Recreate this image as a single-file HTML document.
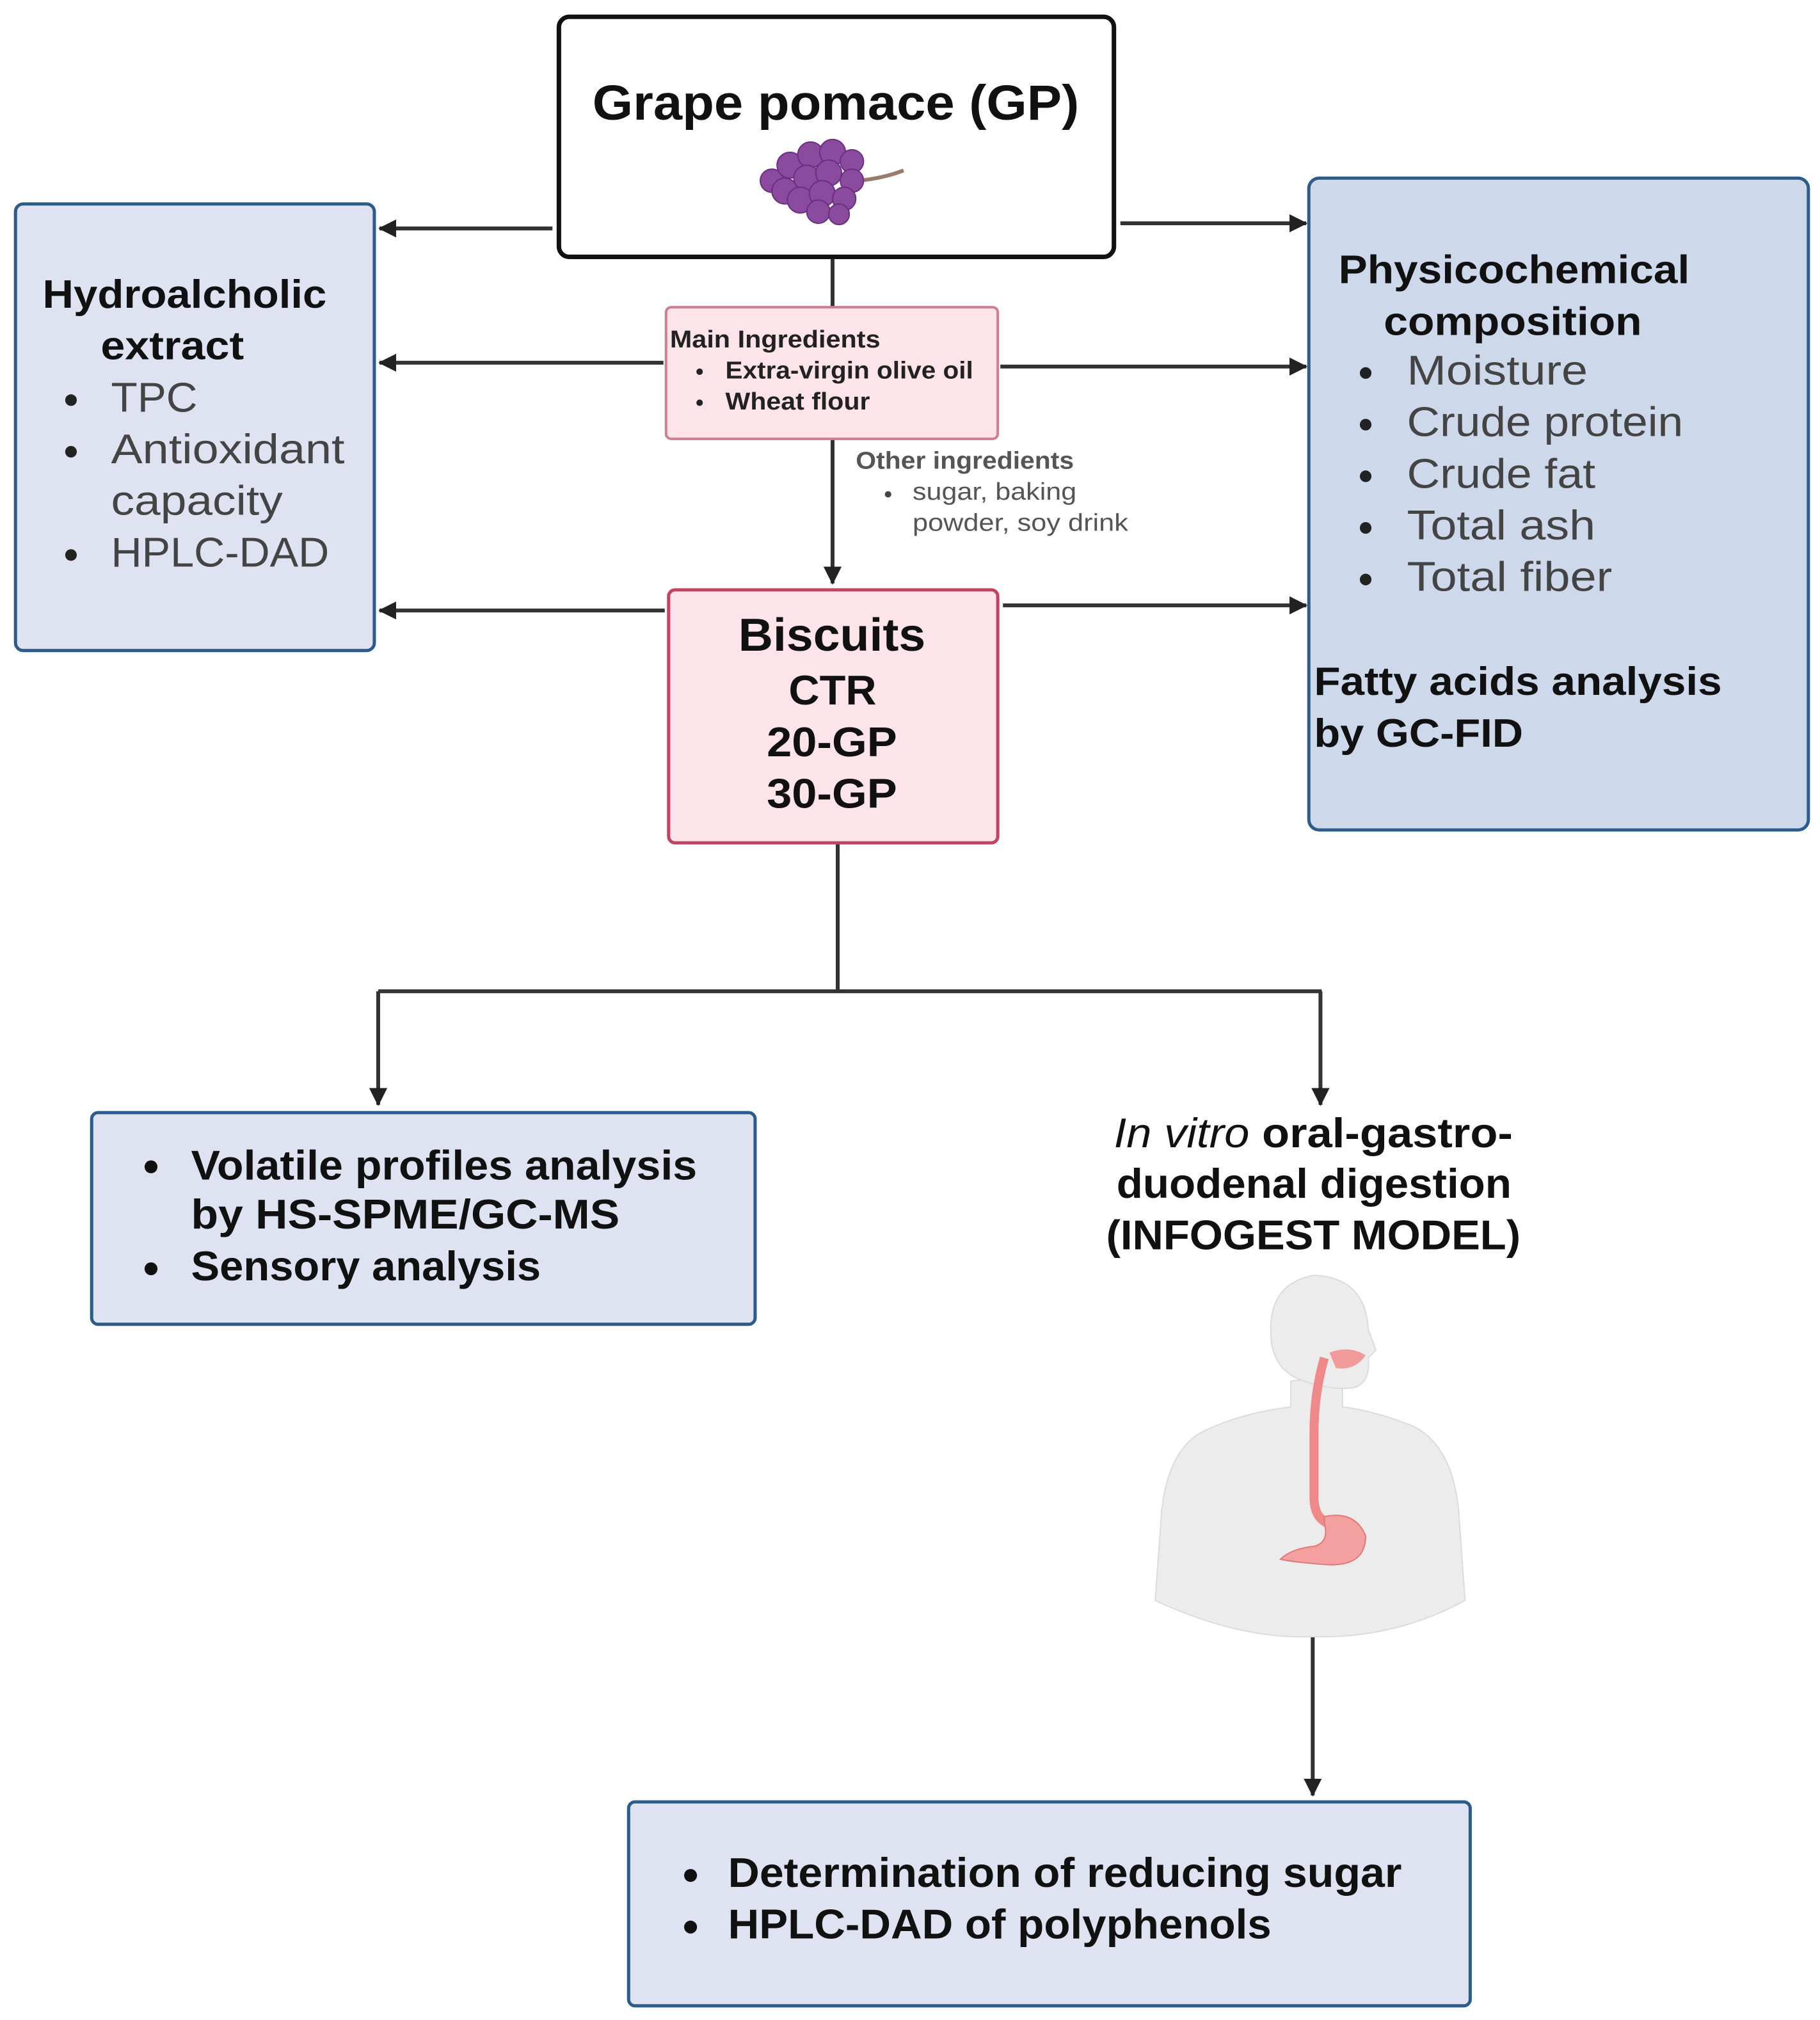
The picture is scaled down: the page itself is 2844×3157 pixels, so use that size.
<!DOCTYPE html>
<html><head><meta charset="utf-8"><style>
html,body{margin:0;padding:0;background:#fff;}
svg{display:block;}
text{font-family:"Liberation Sans",sans-serif;dominant-baseline:central;}
.b{font-weight:bold;fill:#111;}
.n{fill:#444;}
</style></head><body>
<svg width="2844" height="3157" viewBox="0 0 1410 1565" preserveAspectRatio="none" xmlns="http://www.w3.org/2000/svg">
<defs>
<marker id="ah" markerWidth="10" markerHeight="10" refX="9" refY="5" orient="auto" markerUnits="userSpaceOnUse" viewBox="0 0 10 10">
<path d="M0,0 L10,5 L0,10 z" fill="#222"/></marker>
<marker id="ah2" markerWidth="14" markerHeight="14" refX="13" refY="7" orient="auto" markerUnits="userSpaceOnUse" viewBox="0 0 14 14">
<path d="M0,0 L14,7 L0,14 z" fill="#222"/></marker>
</defs>
<rect width="1410" height="1565" fill="#fff"/>
<g stroke="#333" stroke-width="3" fill="none">
<line x1="428" y1="177" x2="294" y2="177" marker-end="url(#ah2)"/>
<line x1="868" y1="173" x2="1012" y2="173" marker-end="url(#ah2)"/>
<line x1="514" y1="281" x2="294" y2="281" marker-end="url(#ah2)"/>
<line x1="775" y1="284" x2="1012" y2="284" marker-end="url(#ah2)"/>
<line x1="515" y1="473" x2="294" y2="473" marker-end="url(#ah2)"/>
<line x1="777" y1="469" x2="1012" y2="469" marker-end="url(#ah2)"/>
<line x1="645" y1="200" x2="645" y2="238"/>
<line x1="645" y1="340" x2="645" y2="452" marker-end="url(#ah2)"/>
<polyline points="649,653 649,768"/>
<line x1="293" y1="768" x2="1024" y2="768"/>
<line x1="293" y1="768" x2="293" y2="856" marker-end="url(#ah2)"/>
<line x1="1023" y1="768" x2="1023" y2="856" marker-end="url(#ah2)"/>
<line x1="1017" y1="1268" x2="1017" y2="1391" marker-end="url(#ah2)"/>
</g>
<!-- GP box -->
<rect x="433" y="13" width="430" height="186" rx="8" fill="#fff" stroke="#111" stroke-width="3.5"/>
<text x="459" y="80" class="b" font-size="38" textLength="377" lengthAdjust="spacingAndGlyphs">Grape pomace (GP)</text>
<g>
<path d="M665,140 Q685,138 700,132" stroke="#9a7a6a" stroke-width="3" fill="none"/>
<g fill="#8a4a9e" stroke="#6a2f80" stroke-width="1">
<circle cx="598" cy="140" r="9"/><circle cx="612" cy="128" r="10"/><circle cx="628" cy="120" r="10"/><circle cx="645" cy="118" r="10"/><circle cx="660" cy="125" r="9"/>
<circle cx="608" cy="148" r="10"/><circle cx="625" cy="138" r="10"/><circle cx="642" cy="134" r="10"/><circle cx="660" cy="140" r="9"/>
<circle cx="620" cy="155" r="10"/><circle cx="637" cy="150" r="10"/><circle cx="654" cy="154" r="9"/>
<circle cx="634" cy="164" r="9"/><circle cx="650" cy="166" r="8"/>
</g>
</g>
<!-- Left box -->
<rect x="12" y="158" width="278" height="346" rx="6" fill="#dfe3f1" stroke="#2e5c8a" stroke-width="2.5"/>
<text x="33" y="228" class="b" font-size="31" textLength="220" lengthAdjust="spacingAndGlyphs">Hydroalcholic</text>
<text x="78" y="268" class="b" font-size="31" textLength="111" lengthAdjust="spacingAndGlyphs">extract</text>
<g fill="#222"><circle cx="55" cy="310" r="4.5"/><circle cx="55" cy="350" r="4.5"/><circle cx="55" cy="430" r="4.5"/></g>
<text x="86" y="308" class="n" font-size="32" textLength="67" lengthAdjust="spacingAndGlyphs">TPC</text>
<text x="86" y="348" class="n" font-size="32" textLength="181" lengthAdjust="spacingAndGlyphs">Antioxidant</text>
<text x="86" y="388" class="n" font-size="32" textLength="133" lengthAdjust="spacingAndGlyphs">capacity</text>
<text x="86" y="428" class="n" font-size="32" textLength="169" lengthAdjust="spacingAndGlyphs">HPLC-DAD</text>
<!-- Right box -->
<rect x="1014" y="138" width="387" height="505" rx="8" fill="#cdd8ea" stroke="#2e5c8a" stroke-width="2.5"/>
<text x="1037" y="209" class="b" font-size="31" textLength="272" lengthAdjust="spacingAndGlyphs">Physicochemical</text>
<text x="1072" y="249" class="b" font-size="31" textLength="200" lengthAdjust="spacingAndGlyphs">composition</text>
<g fill="#222"><circle cx="1058" cy="289" r="4.5"/><circle cx="1058" cy="329" r="4.5"/><circle cx="1058" cy="369" r="4.5"/><circle cx="1058" cy="409" r="4.5"/><circle cx="1058" cy="449" r="4.5"/></g>
<text x="1090" y="287" class="n" font-size="32" textLength="140" lengthAdjust="spacingAndGlyphs">Moisture</text>
<text x="1090" y="327" class="n" font-size="32" textLength="214" lengthAdjust="spacingAndGlyphs">Crude protein</text>
<text x="1090" y="367" class="n" font-size="32" textLength="146" lengthAdjust="spacingAndGlyphs">Crude fat</text>
<text x="1090" y="407" class="n" font-size="32" textLength="146" lengthAdjust="spacingAndGlyphs">Total ash</text>
<text x="1090" y="447" class="n" font-size="32" textLength="159" lengthAdjust="spacingAndGlyphs">Total fiber</text>
<text x="1018" y="528" class="b" font-size="31" textLength="316" lengthAdjust="spacingAndGlyphs">Fatty acids analysis</text>
<text x="1018" y="568" class="b" font-size="31" textLength="162" lengthAdjust="spacingAndGlyphs">by GC-FID</text>
<!-- Main ingredients -->
<rect x="516" y="238" width="257" height="102" rx="4" fill="#fde4ea" stroke="#d07f93" stroke-width="2"/>
<text x="519" y="263" font-size="19" font-weight="bold" fill="#222" textLength="163" lengthAdjust="spacingAndGlyphs">Main Ingredients</text>
<g fill="#222"><circle cx="542" cy="288" r="2.5"/><circle cx="542" cy="312" r="2.5"/></g>
<text x="562" y="287" font-size="19" font-weight="bold" fill="#222" textLength="192" lengthAdjust="spacingAndGlyphs">Extra-virgin olive oil</text>
<text x="562" y="311" font-size="19" font-weight="bold" fill="#222" textLength="112" lengthAdjust="spacingAndGlyphs">Wheat flour</text>
<!-- Other ingredients -->
<text x="663" y="357" font-size="19" font-weight="bold" fill="#555" textLength="169" lengthAdjust="spacingAndGlyphs">Other ingredients</text>
<circle cx="688" cy="383" r="2.5" fill="#444"/>
<text x="707" y="381" font-size="19" fill="#555" textLength="127" lengthAdjust="spacingAndGlyphs">sugar, baking</text>
<text x="707" y="405" font-size="19" fill="#555" textLength="167" lengthAdjust="spacingAndGlyphs">powder, soy drink</text>
<!-- Biscuits -->
<rect x="518" y="457" width="255" height="196" rx="5" fill="#fde4ea" stroke="#c0445f" stroke-width="2.5"/>
<text x="572" y="492" class="b" font-size="36" textLength="145" lengthAdjust="spacingAndGlyphs">Biscuits</text>
<text x="611" y="535" class="b" font-size="32" textLength="68" lengthAdjust="spacingAndGlyphs">CTR</text>
<text x="594" y="575" class="b" font-size="32" textLength="101" lengthAdjust="spacingAndGlyphs">20-GP</text>
<text x="594" y="615" class="b" font-size="32" textLength="101" lengthAdjust="spacingAndGlyphs">30-GP</text>
<!-- Volatile box -->
<rect x="71" y="862" width="514" height="164" rx="5" fill="#dfe3f1" stroke="#2e5c8a" stroke-width="2.5"/>
<g fill="#111"><circle cx="117" cy="904" r="5"/><circle cx="117" cy="983" r="5"/></g>
<text x="148" y="903" class="b" font-size="32" textLength="392" lengthAdjust="spacingAndGlyphs">Volatile profiles analysis</text>
<text x="148" y="941" class="b" font-size="32" textLength="332" lengthAdjust="spacingAndGlyphs">by HS-SPME/GC-MS</text>
<text x="148" y="981" class="b" font-size="32" textLength="271" lengthAdjust="spacingAndGlyphs">Sensory analysis</text>
<!-- In vitro -->
<text x="863" y="878" font-size="32" fill="#111" textLength="309" lengthAdjust="spacingAndGlyphs"><tspan font-style="italic">In vitro</tspan><tspan font-weight="bold"> oral-gastro-</tspan></text>
<text x="865" y="917" class="b" font-size="32" textLength="306" lengthAdjust="spacingAndGlyphs">duodenal digestion</text>
<text x="857" y="957" class="b" font-size="32" textLength="321" lengthAdjust="spacingAndGlyphs">(INFOGEST MODEL)</text>
<!-- Human figure -->
<g>
<path d="M1000,1070 L1000,1090 Q960,1095 930,1110 Q905,1125 900,1170 L895,1240 Q960,1270 1015,1268 Q1080,1270 1135,1240 L1130,1170 Q1125,1120 1095,1105 Q1065,1093 1040,1090 L1040,1065 Z" fill="#ececec" stroke="#dcdcdc"/>
<path d="M985,1040 Q980,995 1018,988 Q1058,990 1060,1030 L1066,1046 L1060,1052 Q1062,1070 1050,1075 Q1030,1078 1005,1068 Q988,1060 985,1040 Z" fill="#ececec" stroke="#dcdcdc"/>
<path d="M1030,1048 Q1045,1042 1058,1050 Q1050,1062 1035,1060 Z" fill="#f29a9a"/>
<path d="M1026,1052 Q1018,1080 1018,1110 L1018,1160 Q1018,1175 1028,1180" stroke="#f08a8a" stroke-width="7" fill="none"/>
<path d="M1026,1175 Q1050,1170 1058,1190 Q1058,1215 1025,1212 Q1000,1210 992,1208 Q1000,1200 1018,1198 Q1030,1195 1026,1180 Z" fill="#f4a0a0" stroke="#e07a7a"/>
</g>
<!-- Bottom box -->
<rect x="487" y="1396" width="652" height="158" rx="5" fill="#dfe3f1" stroke="#2e5c8a" stroke-width="2.5"/>
<g fill="#111"><circle cx="535" cy="1453" r="5"/><circle cx="535" cy="1493" r="5"/></g>
<text x="564" y="1451" class="b" font-size="32" textLength="522" lengthAdjust="spacingAndGlyphs">Determination of reducing sugar</text>
<text x="564" y="1491" class="b" font-size="32" textLength="421" lengthAdjust="spacingAndGlyphs">HPLC-DAD of polyphenols</text>
</svg>
</body></html>
